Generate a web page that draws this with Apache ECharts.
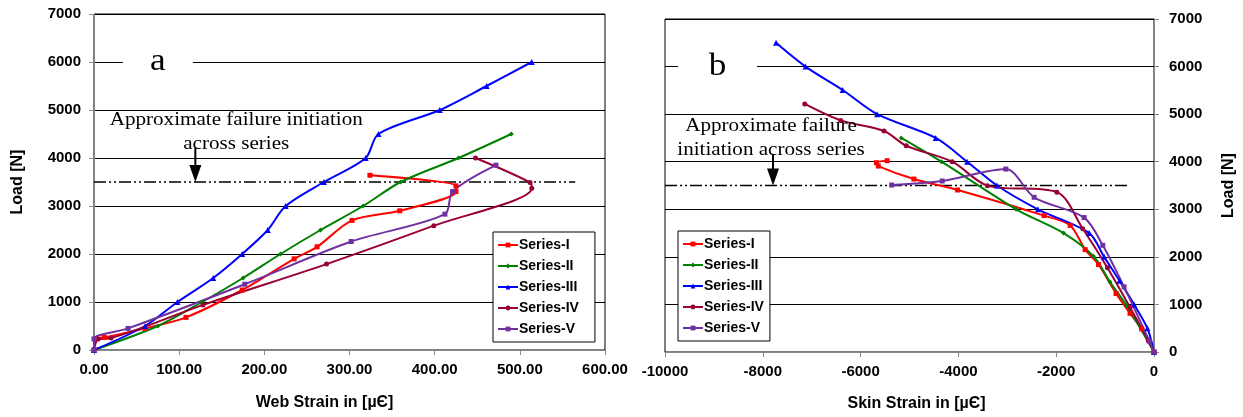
<!DOCTYPE html>
<html>
<head>
<meta charset="utf-8">
<script src="https://cdn.jsdelivr.net/npm/echarts@6/dist/echarts.min.js"></script>
<style>
html,body{margin:0;padding:0;background:#fff;}
#main{width:1243px;height:417px;}
</style>
</head>
<body>
<div id="main"></div>
<script>
// ---- data ----
const seriesNames = ['Series-I', 'Series-II', 'Series-III', 'Series-IV', 'Series-V'];
const seriesColors = ['#FF0000', '#008000', '#0000FF', '#990033', '#7030A0'];
const seriesSymbols = ['rect', 'diamond', 'triangle', 'circle', 'rect'];

// chart a: [web strain, load]
const webI = [[0,0],[2,230],[12,260],[60,450],[108,680],[174,1250],[235,1900],[262,2150],[303,2700],[359,2900],[425,3300],[425,3420],[324,3640]];
const webII = [[0,0],[75,500],[127,1000],[175,1500],[219,2000],[266,2500],[316,3000],[360,3500],[428,4000],[490,4500]];
const webIII = [[0,0],[60,500],[98,1000],[140,1500],[174,2000],[204,2500],[225,3000],[270,3500],[319,4000],[334,4500],[406,5000],[461,5500],[514,6000]];
const webIV = [[0,0],[5,230],[20,250],[128,940],[273,1790],[399,2590],[514,3370],[512,3490],[448,4000]];
const webV = [[0,0],[0,230],[40,450],[177,1370],[302,2260],[412,2830],[421,3300],[472,3850]];

// chart b: [skin strain, load]
const skinI = [[-5458,4021],[-5677,3979],[-5638,3909],[-4910,3636],[-4017,3406],[-2247,2867],[-1714,2660],[-1408,2152],[-1136,1840],[-776,1229],[-490,812],[-252,486],[0,0]];
const skinII = [[-5168,4500],[-4346,4000],[-2819,3000],[-1851,2500],[-1238,2014],[-898,1472],[-558,972],[0,0]];
const skinIII = [[-7729,6500],[-7126,6000],[-6367,5507],[-5662,5000],[-4464,4500],[-3821,4000],[-3211,3500],[-2375,3000],[-1325,2500],[-1020,2000],[-707,1500],[-408,1000],[-136,500],[0,0]];
const skinIV = [[-7142,5215],[-6406,4868],[-5521,4646],[-5067,4336],[-4127,4000],[-3407,3497],[-1985,3360],[-1456,2590],[-952,1771],[-490,937],[-116,243],[0,0]];
const skinV = [[-5364,3510],[-4331,3594],[-3030,3846],[-2451,3252],[-1429,2826],[-1048,2243],[-612,1368],[-95,229],[0,0]];

const failureLoad = 3500;
const failureLineA = [[0, failureLoad], [565, failureLoad]];
const failureLineB = [[-10000, failureLoad], [-550, failureLoad]];

const webSets = [webI, webII, webIII, webIV, webV];
const skinSets = [skinI, skinII, skinIII, skinIV, skinV];

// ---- chart ----
const chart = echarts.init(document.getElementById('main'), null, {renderer: 'canvas'});
const sansBold = {fontFamily: 'Liberation Sans, Arial, sans-serif', fontWeight: 'bold', color: '#000'};
const plain = v => String(v);

function makeSeries(sets, axisIdx) {
  return sets.map((d, i) => ({
    name: seriesNames[i],
    type: 'line',
    xAxisIndex: axisIdx, yAxisIndex: axisIdx,
    data: d,
    smooth: 0.3,
    symbol: seriesSymbols[i],
    symbolSize: seriesSymbols[i] === 'triangle' ? 6 : 5,
    showSymbol: true,
    color: seriesColors[i],
    lineStyle: {width: 2, color: seriesColors[i]},
    itemStyle: {color: seriesColors[i]},
    emphasis: {disabled: true},
    animation: false,
    z: 3
  }));
}
function failSeries(d, idx) {
  return {
    type: 'line', xAxisIndex: idx, yAxisIndex: idx, data: d,
    symbol: 'none', silent: true, animation: false,
    lineStyle: {color: '#000', width: 1.3, type: [12, 3, 2, 3, 2, 3]},
    z: 2
  };
}
const axisLineGray = {show: true, lineStyle: {color: '#888', width: 1}};
const tickGray = {show: true, length: 5, inside: false, lineStyle: {color: '#888'}};
const splitBlack = {show: true, lineStyle: {color: '#000', width: 1}};

function legendFor(left, top, padRight) {
  return {
    left: left, top: top,
    orient: 'vertical',
    data: seriesNames,
    itemWidth: 20, itemHeight: 6, itemGap: 5,
    padding: [5, padRight, 5, 4],
    borderColor: '#000', borderWidth: 1, backgroundColor: '#fff',
    textStyle: Object.assign({fontSize: 14, lineHeight: 16, padding: [0, 0, 0, -4]}, sansBold),
    selectedMode: false,
    z: 10
  };
}

chart.setOption({
  animation: false,
  backgroundColor: '#fff',
  grid: [
    {left: 94, top: 14, width: 511, height: 336, show: true, borderColor: '#000', borderWidth: 1, backgroundColor: 'transparent'},
    {left: 665, top: 19, width: 489, height: 336, show: true, borderColor: '#000', borderWidth: 1, backgroundColor: 'transparent'}
  ],
  legend: [legendFor(493, 232, 16), legendFor(678, 231, 6)],
  xAxis: [
    {
      type: 'value', gridIndex: 0, min: 0, max: 600, interval: 100,
      axisLine: axisLineGray, axisTick: tickGray, splitLine: {show: false},
      axisLabel: Object.assign({fontSize: 15, margin: 12, formatter: v => v.toFixed(2), showMinLabel: true, showMaxLabel: true}, sansBold),
      name: 'Web Strain in [µЄ]', nameLocation: 'middle', nameGap: 45,
      nameTextStyle: Object.assign({fontSize: 16, padding: [0, 50, 0, 0]}, sansBold)
    },
    {
      type: 'value', gridIndex: 1, min: -10000, max: 0, interval: 2000,
      axisLine: Object.assign({onZero: false}, axisLineGray), axisTick: tickGray, splitLine: {show: false},
      axisLabel: Object.assign({fontSize: 15, margin: 12, formatter: plain, showMinLabel: true, showMaxLabel: true}, sansBold),
      name: 'Skin Strain in [µЄ]', nameLocation: 'middle', nameGap: 44,
      nameTextStyle: Object.assign({fontSize: 16, padding: [0, 0, 0, 14]}, sansBold)
    }
  ],
  yAxis: [
    {
      type: 'value', gridIndex: 0, min: 0, max: 7000, interval: 1000,
      axisLine: axisLineGray, axisTick: tickGray, splitLine: splitBlack,
      axisLabel: Object.assign({fontSize: 15, margin: 13, formatter: plain}, sansBold),
      name: 'Load [N]', nameLocation: 'middle', nameGap: 68, nameRotate: 90,
      nameTextStyle: Object.assign({fontSize: 16}, sansBold)
    },
    {
      type: 'value', gridIndex: 1, min: 0, max: 7000, interval: 1000, position: 'right',
      axisLine: Object.assign({onZero: false}, axisLineGray), axisTick: tickGray, splitLine: splitBlack,
      axisLabel: Object.assign({fontSize: 15, margin: 15, formatter: plain}, sansBold),
      name: 'Load [N]', nameLocation: 'middle', nameGap: 67, nameRotate: 90,
      nameTextStyle: Object.assign({fontSize: 16}, sansBold)
    }
  ],
  series: [failSeries(failureLineA, 0), failSeries(failureLineB, 1)]
    .concat(makeSeries(webSets, 0))
    .concat(makeSeries(skinSets, 1))
});

// ---- annotations positioned through the axes ----
function px(gi, x, y) { return chart.convertToPixel({gridIndex: gi}, [x, y]); }
const serif = 'Liberation Serif, Times New Roman, serif';
function panelLabel(gi, cx, load, txt, w) {
  const p = px(gi, cx, load);
  return [
    {type: 'rect', shape: {x: p[0] - w / 2, y: p[1] - 13, width: w, height: 26}, style: {fill: '#fff'}, z: 5},
    {type: 'text', x: p[0], y: p[1], scaleX: 1.1, style: {text: txt, font: '32px ' + serif, fill: '#000', align: 'center', verticalAlign: 'middle'}, z: 6}
  ];
}
function note(gi, cx, load, txt) {
  const p = px(gi, cx, load);
  return {type: 'text', x: p[0], y: p[1], scaleX: 1.11, style: {text: txt, font: '19px ' + serif, fill: '#000', align: 'center', verticalAlign: 'middle'}, z: 6};
}
function arrow(gi, x, fromLoad, toLoad) {
  const a = px(gi, x, fromLoad), b = px(gi, x, toLoad);
  return [
    {type: 'line', shape: {x1: a[0], y1: a[1], x2: b[0], y2: b[1] - 14}, style: {stroke: '#000', lineWidth: 2}, z: 6},
    {type: 'polygon', shape: {points: [[b[0] - 6, b[1] - 17], [b[0] + 6, b[1] - 17], [b[0], b[1]]]}, style: {fill: '#000'}, z: 6}
  ];
}
chart.setOption({
  graphic: [].concat(
    panelLabel(0, 75, 6000, 'a', 70),
    [note(0, 167, 4792, 'Approximate failure initiation'), note(0, 167, 4292, 'across series')],
    arrow(0, 119, 4208, failureLoad),
    panelLabel(1, -8926, 6000, 'b', 79),
    [note(1, -7832, 4750, 'Approximate failure'), note(1, -7832, 4250, 'initiation across series')],
    arrow(1, -7791, 4146, failureLoad)
  )
});
</script>
</body>
</html>
